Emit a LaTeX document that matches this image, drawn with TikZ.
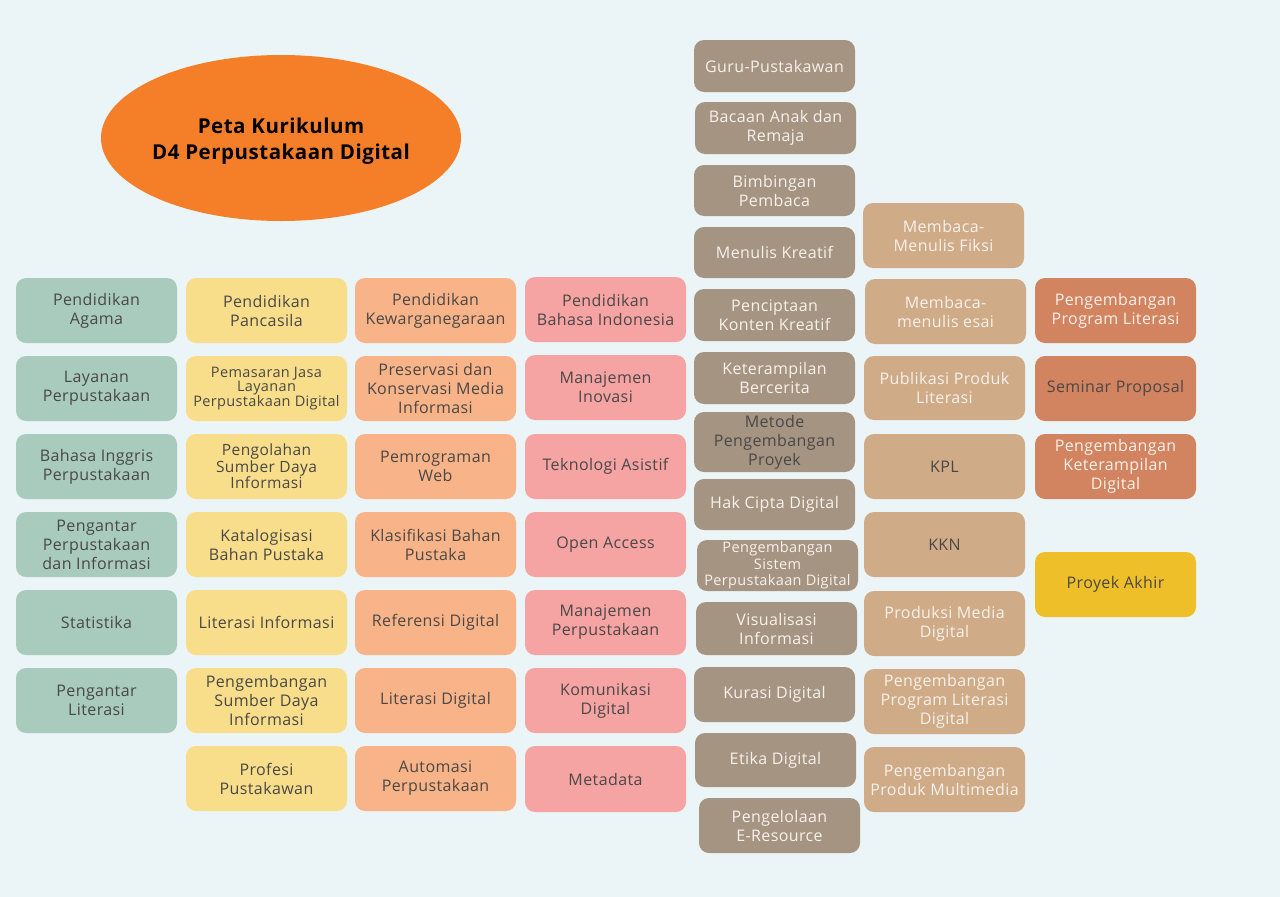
\documentclass[tikz,border=0pt]{standalone}
\usepackage{fontspec}
\setmainfont{Open Sans}[LetterSpace=2.5]
\definecolor{cLatar}{HTML}{EBF4F6}
\definecolor{cHijau}{HTML}{A8CBBE}
\definecolor{cKuning}{HTML}{F8DE8A}
\definecolor{cJingga}{HTML}{F9B389}
\definecolor{cMerah}{HTML}{F6A3A4}
\definecolor{cCoklat}{HTML}{A69483}
\definecolor{cKrem}{HTML}{D0AB88}
\definecolor{cBata}{HTML}{D2835F}
\definecolor{cEmas}{HTML}{EFBF2A}
\definecolor{cJudul}{HTML}{F57F29}
\definecolor{cGelap}{HTML}{4A4846}
\definecolor{cTerang}{HTML}{F6F1EB}
\tikzset{x=1pt, y=-1pt,
  kotak/.style={rounded corners=10pt, align=center, inner sep=1pt,
     minimum width=161pt, text=cGelap, font=\fontsize{16}{19}\selectfont},
  hijau/.style={kotak, fill=cHijau},
  kuning/.style={kotak, fill=cKuning},
  jingga/.style={kotak, fill=cJingga},
  merah/.style={kotak, fill=cMerah},
  coklat/.style={kotak, fill=cCoklat, text=cTerang},
  krem/.style={kotak, fill=cKrem, text=cTerang},
  bata/.style={kotak, fill=cBata, text=cTerang},
  emas/.style={kotak, fill=cEmas},
  rapat/.style={font=\fontsize{14.5}{14.5}\selectfont},
  padat/.style={font=\fontsize{15.5}{15}\selectfont},
  kecil/.style={font=\fontsize{14.5}{16.5}\selectfont},
  tua/.style={text=cGelap},
  judul/.style={align=center, text=black,
     font=\fontsize{20.5}{26}\selectfont\bfseries}
}
% #1 name, #2 style, #3 left x, #4 top y, #5 bottom y, #6 text
\def\Kotak#1#2#3#4#5#6{%
  \node[#2, minimum height={#5-#4}] (#1) at ({#3+80.5},{(#4+#5)/2}) {#6};
}
\begin{document}
\begin{tikzpicture}
\fill[cLatar] (0,0) rectangle (1280,897);
\fill[cJudul] (281,138) ellipse [x radius=180, y radius=83];
\node[judul] (judul) at (281,141) {Peta Kurikulum\\D4 Perpustakaan Digital};
% kolom 1
\Kotak{h1}{hijau}{16}{278}{343}{Pendidikan\\Agama}
\Kotak{h2}{hijau}{16}{356}{421}{Layanan\\Perpustakaan}
\Kotak{h3}{hijau}{16}{434}{499}{Bahasa Inggris\\Perpustakaan}
\Kotak{h4}{hijau}{16}{512}{577}{Pengantar\\Perpustakaan\\dan Informasi}
\Kotak{h5}{hijau}{16}{590}{655}{Statistika}
\Kotak{h6}{hijau}{16}{668}{733}{Pengantar\\Literasi}
% kolom 2
\Kotak{k1}{kuning}{186}{278}{343}{Pendidikan\\Pancasila}
\Kotak{k2}{kuning,rapat}{186}{356}{421}{Pemasaran Jasa\\Layanan\\Perpustakaan Digital}
\Kotak{k3}{kuning,padat}{186}{434}{499}{Pengolahan\\Sumber Daya\\Informasi}
\Kotak{k4}{kuning}{186}{512}{577}{Katalogisasi\\Bahan Pustaka}
\Kotak{k5}{kuning}{186}{590}{655}{Literasi Informasi}
\Kotak{k6}{kuning}{186}{668}{733}{Pengembangan\\Sumber Daya\\Informasi}
\Kotak{k7}{kuning}{186}{746}{811}{Profesi\\Pustakawan}
% kolom 3
\Kotak{j1}{jingga}{355}{278}{343}{Pendidikan\\Kewarganegaraan}
\Kotak{j2}{jingga}{355}{356}{421}{Preservasi dan\\Konservasi Media\\Informasi}
\Kotak{j3}{jingga}{355}{434}{499}{Pemrograman\\Web}
\Kotak{j4}{jingga}{355}{512}{577}{Klasifikasi Bahan\\Pustaka}
\Kotak{j5}{jingga}{355}{590}{655}{Referensi Digital}
\Kotak{j6}{jingga}{355}{668}{733}{Literasi Digital}
\Kotak{j7}{jingga}{355}{746}{811}{Automasi\\Perpustakaan}
% kolom 4
\Kotak{m1}{merah}{525}{277}{342}{Pendidikan\\Bahasa Indonesia}
\Kotak{m2}{merah}{525}{355}{420}{Manajemen\\Inovasi}
\Kotak{m3}{merah}{525}{434}{499}{Teknologi Asistif}
\Kotak{m4}{merah}{525}{512}{577}{Open Access}
\Kotak{m5}{merah}{525}{590}{655}{Manajemen\\Perpustakaan}
\Kotak{m6}{merah}{525}{668}{733}{Komunikasi\\Digital}
\Kotak{m7}{merah}{525}{746}{812}{Metadata}
% kolom 5
\Kotak{c1}{coklat}{694}{40}{92}{Guru-Pustakawan}
\Kotak{c2}{coklat}{695}{102}{154}{Bacaan Anak dan\\Remaja}
\Kotak{c3}{coklat}{694}{165}{216}{Bimbingan\\Pembaca}
\Kotak{c4}{coklat}{694}{227}{278}{Menulis Kreatif}
\Kotak{c5}{coklat}{694}{289}{341}{Penciptaan\\Konten Kreatif}
\Kotak{c6}{coklat}{694}{352}{404}{Keterampilan\\Bercerita}
\Kotak{c7}{coklat,tua}{694}{412}{472}{Metode\\Pengembangan\\Proyek}
\Kotak{c8}{coklat}{694}{479}{530}{Hak Cipta Digital}
\Kotak{c9}{coklat,kecil}{697}{540}{591}{Pengembangan\\Sistem\\Perpustakaan Digital}
\Kotak{c10}{coklat}{696}{602}{655}{Visualisasi\\Informasi}
\Kotak{c11}{coklat}{694}{667}{722}{Kurasi Digital}
\Kotak{c12}{coklat}{695}{733}{787}{Etika Digital}
\Kotak{c13}{coklat}{699}{798}{853}{Pengelolaan\\E-Resource}
% kolom 6
\Kotak{t1}{krem}{863}{203}{268}{Membaca-\\Menulis Fiksi}
\Kotak{t2}{krem}{865}{279}{344}{Membaca-\\menulis esai}
\Kotak{t3}{krem}{864}{356}{420}{Publikasi Produk\\Literasi}
\Kotak{t4}{krem,tua}{864}{434}{499}{KPL}
\Kotak{t5}{krem,tua}{864}{512}{577}{KKN}
\Kotak{t6}{krem}{864}{591}{656}{Produksi Media\\Digital}
\Kotak{t7}{krem}{864}{669}{734}{Pengembangan\\Program Literasi\\Digital}
\Kotak{t8}{krem}{864}{747}{812}{Pengembangan\\Produk Multimedia}
% kolom 7
\Kotak{b1}{bata}{1035}{278}{343}{Pengembangan\\Program Literasi}
\Kotak{b2}{bata,tua}{1035}{356}{421}{Seminar Proposal}
\Kotak{b3}{bata}{1035}{434}{499}{Pengembangan\\Keterampilan\\Digital}
\Kotak{pa}{emas}{1035}{552}{617}{Proyek Akhir}
\end{tikzpicture}
\end{document}
